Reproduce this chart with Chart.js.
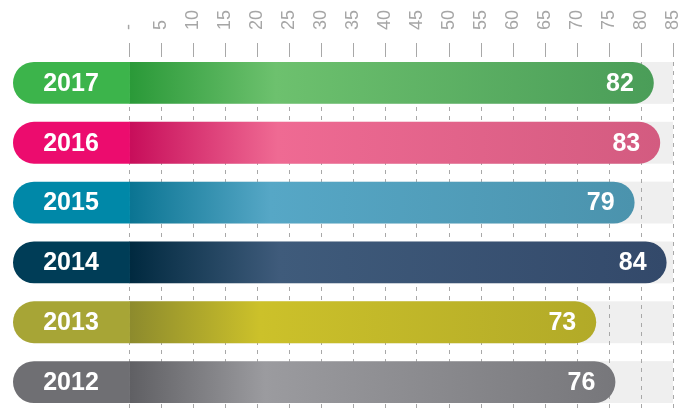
<!DOCTYPE html>
<html><head><meta charset="utf-8">
<script src="https://cdn.jsdelivr.net/npm/chart.js@4.4.0/dist/chart.umd.min.js"></script>
<style>html,body{margin:0;padding:0;background:#fff}</style>
</head><body>
<canvas id="c" width="693" height="417"></canvas>
<script>
const years = ['2017','2016','2015','2014','2013','2012'];
const values = [82, 83, 79, 84, 73, 76];
const scaleMax = 85;
const labelBoxStart = -18.125;
const labelBoxEnd = 0.15;
const tickValues = [0,5,10,15,20,25,30,35,40,45,50,55,60,65,70,75,80,85];
const tickLabels = ['-','5','10','15','20','25','30','35','40','45','50','55','60','65','70','75','80','85'];
const labelColors = ['#3cb44b','#ec0c6e','#0088a8','#003d57','#a7a536','#6f6f73'];
const gradStart = ['#2a9938','#c70d5a','#0a7492','#00293f','#8c8a2d','#5f5f63'];
const gradPeak  = ['#6dc16e','#ef6a93','#56a7c6','#3f5b7b','#ccc12a','#9b9b9f'];
const gradEnd   = ['#4a9d58','#d35b80','#4b93ad','#33496a','#b2aa28','#77777b'];

const FONT = '"Liberation Sans", Arial, sans-serif';

const bgPlugin = {
  id: 'bgBands',
  beforeDraw(chart) {
    const {ctx, scales: {x}} = chart;
    const meta = chart.getDatasetMeta(1);
    const x0 = x.getPixelForValue(0), x1 = x.getPixelForValue(scaleMax);
    ctx.save();
    ctx.fillStyle = '#efefef';
    meta.data.forEach(bar => {
      const h = bar.height;
      ctx.fillRect(x0, bar.y - h / 2, x1 - x0, h);
    });
    ctx.restore();
  }
};

const textPlugin = {
  id: 'barTexts',
  afterDatasetsDraw(chart) {
    const ctx = chart.ctx;
    const x = chart.scales.x;
    ctx.save();
    ctx.fillStyle = '#ffffff';
    ctx.font = 'bold 25px ' + FONT;
    ctx.textBaseline = 'middle';
    chart.getDatasetMeta(0).data.forEach((bar, i) => {
      ctx.textAlign = 'center';
      const cx = (x.getPixelForValue(labelBoxStart) + x.getPixelForValue(0)) / 2;
      ctx.fillText(years[i], cx, bar.y + 1);
    });
    chart.getDatasetMeta(1).data.forEach((bar, i) => {
      ctx.textAlign = 'right';
      ctx.fillText(String(values[i]), bar.x - 20, bar.y + 1);
    });
    ctx.restore();
  }
};

function barGradient(c) {
  const chart = c.chart;
  if (!chart.chartArea) return gradEnd[c.dataIndex];
  const i = c.dataIndex;
  const x = chart.scales.x;
  const x0 = x.getPixelForValue(0), x1 = x.getPixelForValue(values[i]);
  const g = chart.ctx.createLinearGradient(x0, 0, x1, 0);
  g.addColorStop(0, gradStart[i]);
  g.addColorStop(0.28, gradPeak[i]);
  g.addColorStop(1, gradEnd[i]);
  return g;
}

new Chart(document.getElementById('c'), {
  type: 'bar',
  data: {
    labels: years,
    datasets: [
      {
        data: years.map(() => [labelBoxStart, labelBoxEnd]),
        backgroundColor: labelColors,
        borderRadius: {topLeft: 21, bottomLeft: 21, topRight: 0, bottomRight: 0},
        borderSkipped: false,
        grouped: false,
        barPercentage: 0.7,
        categoryPercentage: 1,
        order: 0
      },
      {
        data: values.map(v => [0, v]),
        backgroundColor: barGradient,
        borderRadius: {topLeft: 0, bottomLeft: 0, topRight: 21, bottomRight: 21},
        borderSkipped: false,
        grouped: false,
        barPercentage: 0.7,
        categoryPercentage: 1,
        order: 1
      }
    ]
  },
  options: {
    indexAxis: 'y',
    responsive: false,
    animation: false,
    events: [],
    layout: {padding: {left: 13, right: 20, bottom: 5, top: 0}},
    plugins: {legend: {display: false}, tooltip: {enabled: false}},
    scales: {
      x: {
        position: 'top',
        min: labelBoxStart,
        max: scaleMax,
        afterBuildTicks: s => { s.ticks = tickValues.map(v => ({value: v})); },
        afterFit: s => { s.height = 53; },
        grid: {color: '#a8a8a8', lineWidth: 1, tickLength: 10, drawTicks: true},
        border: {display: false, dash: [4, 5]},
        ticks: {
          minRotation: 90, maxRotation: 90, padding: 13, autoSkip: false,
          labelOffset: 22,
          color: '#a6a6a6',
          font: {family: FONT, size: 18},
          callback: (v, idx) => tickLabels[idx]
        }
      },
      y: {display: false}
    }
  },
  plugins: [bgPlugin, textPlugin]
});
</script>
</body></html>
